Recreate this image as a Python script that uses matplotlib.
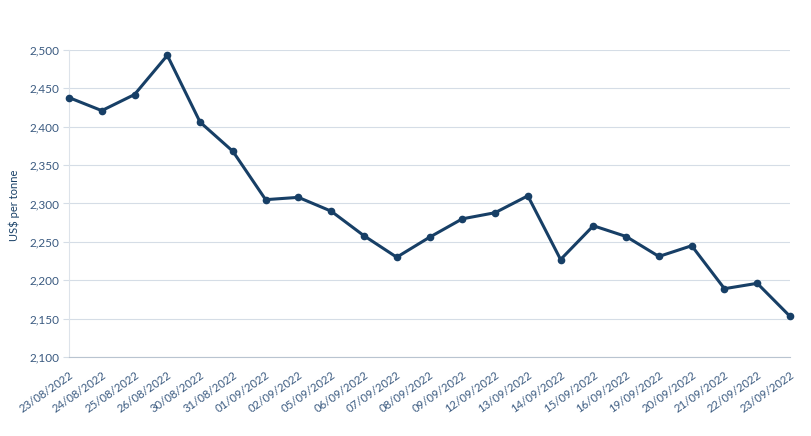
import matplotlib
matplotlib.use("Agg")
import matplotlib.pyplot as plt
from matplotlib.ticker import FuncFormatter

dates = ["23/08/2022", "24/08/2022", "25/08/2022", "26/08/2022", "30/08/2022", "31/08/2022",
         "01/09/2022", "02/09/2022", "05/09/2022", "06/09/2022", "07/09/2022", "08/09/2022",
         "09/09/2022", "12/09/2022", "13/09/2022", "14/09/2022", "15/09/2022", "16/09/2022",
         "19/09/2022", "20/09/2022", "21/09/2022", "22/09/2022", "23/09/2022"]
prices = [2438, 2421, 2442, 2493, 2406, 2368, 2305, 2308, 2290, 2258, 2230, 2256,
          2280, 2288, 2310, 2227, 2271, 2257, 2231, 2245, 2189, 2196, 2153]
yticks = [2100, 2150, 2200, 2250, 2300, 2350, 2400, 2450, 2500]

plt.rcParams['font.family'] = ['Lato', 'DejaVu Sans']
text_col = "#3a5a80"
line_col = "#173f66"

fig = plt.figure(figsize=(8.11, 4.36), dpi=100)
ax = fig.add_axes([69/811, 1-357/436, (790-69)/811, (357-50)/436])
x = list(range(len(dates)))
ax.plot(x, prices, color=line_col, lw=2.2, marker='o', ms=4.5, zorder=3, clip_on=False)
ax.set_xlim(0, len(dates)-1)
ax.set_ylim(2100, 2500)
ax.set_yticks(yticks)
ax.yaxis.set_major_formatter(FuncFormatter(lambda v, p: f"{int(v):,}"))
ax.set_xticks(x)
ax.set_xticklabels(dates, rotation=35, ha='right', rotation_mode='anchor')
ax.tick_params(axis='x', length=0, pad=9, labelsize=8.2, labelcolor=text_col)
ax.tick_params(axis='y', length=4, width=0.8, color="#d5dde6", pad=3, labelsize=8.5, labelcolor=text_col)
ax.grid(axis='y', color="#d5dde6", lw=0.8)
ax.set_axisbelow(True)
for s in ['top', 'right']:
    ax.spines[s].set_visible(False)
ax.spines['left'].set_color("#dde3ea")
ax.spines['left'].set_linewidth(0.8)
ax.spines['bottom'].set_color("#b9c4d0")
ax.spines['bottom'].set_linewidth(0.8)
fig.text(14/811, 1-205/436, "US$ per tonne", rotation=90, ha='center', va='center',
         fontsize=8, color=line_col)
fig.savefig("out.png", dpi=100)
